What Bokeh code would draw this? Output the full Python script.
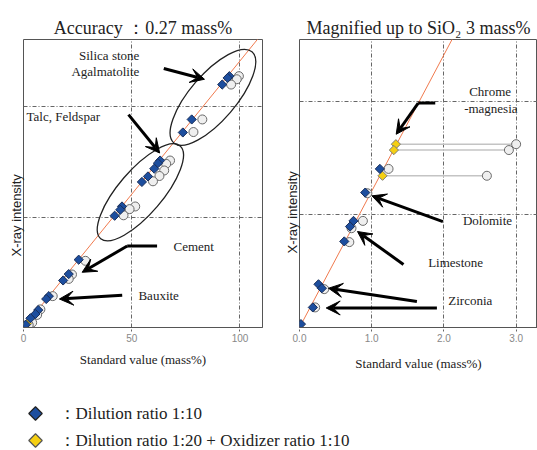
import numpy as np
from bokeh.plotting import figure
from bokeh.layouts import row, column
from bokeh.models import Range1d, FixedTicker, Label, Arrow, VeeHead, Title
from bokeh.embed import file_html
from bokeh.resources import INLINE

# ---------------- full range (left panel) ----------------
full_d10_std = [95.1, 94.3, 91.8, 77.7, 73.6, 63.1, 62.1, 60.4, 57.5, 54.7, 45.5, 44.7, 42.1,
                25.5, 20.9, 18.3, 11.7, 10.5, 6.8, 5.5, 3.2, 1.0]
full_d10_int = [113.8, 113.0, 110.0, 94.2, 88.3, 75.6, 74.4, 71.9, 68.4, 65.9, 54.8, 53.3, 50.6,
                30.7, 24.2, 21.3, 14.2, 12.9, 7.9, 6.1, 4.2, 1.3]
full_d20_std = [1.7]
full_d20_int = [1.8]
full_open_std = [99.5, 98.5, 95.9, 82.6, 78.5, 67.7, 65.9, 65.0, 62.8, 59.8, 51.6, 49.0, 46.2,
                 28.6, 22.4, 20.9, 13.5, 7.8, 6.3, 4.0, 2.4]
full_open_int = [113.8, 112.4, 110.0, 94.2, 88.5, 75.6, 74.1, 71.1, 68.6, 66.2, 54.8, 53.6, 50.8,
                 30.2, 24.0, 22.0, 14.2, 8.2, 5.7, 2.2, 1.2]
full_line_std = [0, 112]
full_line_int = [0, 135.2]
full_x_ticks = [0, 50, 100]
full_y_grid = [50, 100]

# ---------------- low range up to SiO2 3 mass% (right panel) ----------------
low_d10_std = [1.113, 0.91, 0.748, 0.70, 0.62, 0.263, 0.31, 0.185, 0.02]
low_d10_int = [1.406, 1.196, 0.945, 0.895, 0.763, 0.383, 0.348, 0.178, 0.03]
low_d20_std = [1.335, 1.307, 1.15]
low_d20_int = [1.625, 1.573, 1.345]
low_d20_open_std = [3.0, 2.9, 2.595]
low_open_std = [1.233, 0.94, 0.878, 0.72, 0.69, 0.342, 0.217]
low_open_int = [1.406, 1.19, 0.945, 0.88, 0.757, 0.34, 0.178]
low_line_std = [0, 2.3]
low_line_int = [0, 2.78]
low_x_ticks = [0, 1, 2, 3]
low_y_grid = [1, 2]

BLUE = "#1d4e9e"
YELLOW = "#f5cf12"
ORANGE = "#f07a4e"
SERIF = "Liberation Serif"
SANS = "Liberation Sans"
TXT = "#222222"
GRIDC = "#666666"


def base_figure(width, height, xr, yr, borders, xticks, ygrid, fmt, title, title_offset,
                ylab_offset):
    p = figure(width=width, height=height, x_range=Range1d(*xr), y_range=Range1d(*yr),
               output_backend="svg", toolbar_location=None,
               min_border_left=borders[0], min_border_right=borders[1],
               min_border_top=borders[2], min_border_bottom=borders[3])
    p.title.text = title
    p.title.align = "center"
    p.title.offset = title_offset
    p.title.standoff = 4
    p.title.text_font = SERIF
    p.title.text_font_size = "18px"
    p.title.text_font_style = "normal"
    p.title.text_color = TXT
    p.add_layout(Title(text="X-ray intensity", align="left", offset=ylab_offset, standoff=0,
                       text_font=SANS, text_font_size="13px", text_font_style="normal",
                       text_color=TXT), "left")
    p.outline_line_color = "#555555"
    p.outline_line_width = 1
    p.yaxis.visible = False
    p.ygrid.ticker = FixedTicker(ticks=ygrid)
    p.xaxis.ticker = FixedTicker(ticks=xticks)
    p.xaxis.major_label_overrides = {t: fmt.format(t) for t in xticks}
    p.xaxis.axis_line_color = "#555555"
    p.xaxis.major_tick_in = 0
    p.xaxis.major_tick_out = 4
    p.xaxis.major_tick_line_color = GRIDC
    p.xaxis.major_tick_line_dash = "2 2"
    p.xaxis.minor_tick_line_color = None
    p.xaxis.major_label_standoff = 2
    p.xaxis.major_label_text_font = SANS
    p.xaxis.major_label_text_font_size = "10px"
    p.xaxis.major_label_text_color = "#888888"
    p.xaxis.axis_label = "Standard value (mass%)"
    p.xaxis.axis_label_text_font = SERIF
    p.xaxis.axis_label_text_font_size = "13px"
    p.xaxis.axis_label_text_font_style = "normal"
    p.xaxis.axis_label_text_color = TXT
    for g in (p.xgrid, p.ygrid):
        g.grid_line_color = GRIDC
        g.grid_line_dash = "4 2 1 2"
        g.grid_line_width = 1
    p.background_fill_color = "white"
    p.border_fill_color = "white"
    return p


def add_label(p, x, y, text, size="13px", align="left", font=SERIF):
    p.add_layout(Label(x=x, y=y, text=text, text_font=font, text_font_size=size,
                       text_color=TXT, text_align=align, text_baseline="middle"))


def add_arrow(p, xs, ys):
    # polyline body, arrow head on the final segment
    if len(xs) > 2:
        p.line(xs[:-1], ys[:-1], line_color="black", line_width=3)
    p.add_layout(Arrow(x_start=xs[-2], y_start=ys[-2], x_end=xs[-1], y_end=ys[-1],
                       line_color="black", line_width=3,
                       end=VeeHead(size=14, fill_color="black", line_color="black")))


def draw_markers(p, d10x, d10y, d20x, d20y, ox, oy):
    p.scatter(ox, oy, marker="circle", size=9, fill_color="#efefef",
              line_color="#6a6a6a", line_width=1)
    p.scatter(d20x, d20y, marker="square", angle=np.pi / 4, size=6.5,
              fill_color=YELLOW, line_color="#7a7a7a", line_width=1)
    p.scatter(d10x, d10y, marker="square", angle=np.pi / 4, size=6.5,
              fill_color=BLUE, line_color="#1a2f5a", line_width=1)


# ---------------- left panel ----------------
left = base_figure(270, 380, (0, 110.4), (0, 130.4), (23, 8, 39, 49), full_x_ticks,
                   full_y_grid, "{:d}", "Accuracy ：0.27 mass%", -3, 71)
left.xaxis.axis_label_standoff = 7
left.line(full_line_std, full_line_int, line_color=ORANGE, line_width=1)

# groupings
for cx, cy, a, b in [(87.5, 104.2, 120, 46), (54.0, 61.2, 122, 44)]:
    left.ellipse(x=[cx], y=[cy], width=[a], height=[b], angle=np.radians(49.4),
                 width_units="screen", height_units="screen",
                 fill_color=None, line_color="#222222", line_width=1.3)

draw_markers(left, full_d10_std, full_d10_int, full_d20_std, full_d20_int,
             full_open_std, full_open_int)

add_label(left, 53.5, 123.2, "Silica stone", align="right")
add_label(left, 53.5, 115.8, "Agalmatolite", align="right")
add_label(left, 1.4, 95.5, "Talc,  Feldspar")
add_label(left, 69.3, 36.9, "Cement")
add_label(left, 53.1, 14.6, "Bauxite")

add_arrow(left, [64.8, 83.6], [117.3, 112.4])
add_arrow(left, [48.5, 62.9], [96.4, 79.0])
add_arrow(left, [61.7, 47.9, 27.1], [36.9, 36.9, 25.0])
add_arrow(left, [45.6, 16.6], [14.6, 12.9])

# ---------------- right panel ----------------
right = base_figure(267, 380, (0, 3.296), (0, 2.553), (29, 0, 36, 53), low_x_ticks,
                    low_y_grid, "{:.1f}", "Magnified up to SiO₂ 3 mass%", -3, 74)
right.xaxis.axis_label_standoff = 11
right.line(low_line_std, low_line_int, line_color=ORANGE, line_width=1)
right.segment(x0=low_d20_std, y0=low_d20_int, x1=low_d20_open_std, y1=low_d20_int,
              line_color="#c4c4c4", line_width=1.5)
right.scatter(low_d20_open_std, low_d20_int, marker="circle", size=9, fill_color="#efefef",
              line_color="#6a6a6a", line_width=1)
draw_markers(right, low_d10_std, low_d10_int, low_d20_std, low_d20_int,
             low_open_std, low_open_int)

add_label(right, 2.35, 2.096, "Chrome")
add_label(right, 2.28, 1.939, "-magnesia")
add_label(right, 2.263, 0.947, "Dolomite")
add_label(right, 1.782, 0.573, "Limestone")
add_label(right, 2.06, 0.237, "Zirconia")

add_arrow(right, [1.88, 1.644, 1.339], [1.99, 1.99, 1.713])
add_arrow(right, [1.986, 1.003], [0.939, 1.167])
add_arrow(right, [1.44, 0.803], [0.559, 0.851])
add_arrow(right, [1.626, 0.402], [0.231, 0.348])
add_arrow(right, [1.903, 0.37], [0.173, 0.173])

# ---------------- legend strip ----------------
leg = figure(width=537, height=70, x_range=Range1d(0, 537), y_range=Range1d(0, 70),
             output_backend="svg", toolbar_location=None,
             min_border_left=0, min_border_right=0, min_border_top=0, min_border_bottom=0)
leg.axis.visible = False
leg.grid.visible = False
leg.outline_line_color = None
leg.scatter([35], [37], marker="square", angle=np.pi / 4, size=9.5,
            fill_color=BLUE, line_color="#222222", line_width=1.2)
leg.scatter([35], [10], marker="square", angle=np.pi / 4, size=9.5,
            fill_color=YELLOW, line_color="#555555", line_width=1.2)
add_label(leg, 58, 37, "：Dilution ratio 1:10", size="17px")
add_label(leg, 58, 10, "：Dilution ratio 1:20 + Oxidizer ratio 1:10", size="17px")

layout = column(row(left, right), leg)
open("out.html", "w").write(file_html(layout, INLINE))
